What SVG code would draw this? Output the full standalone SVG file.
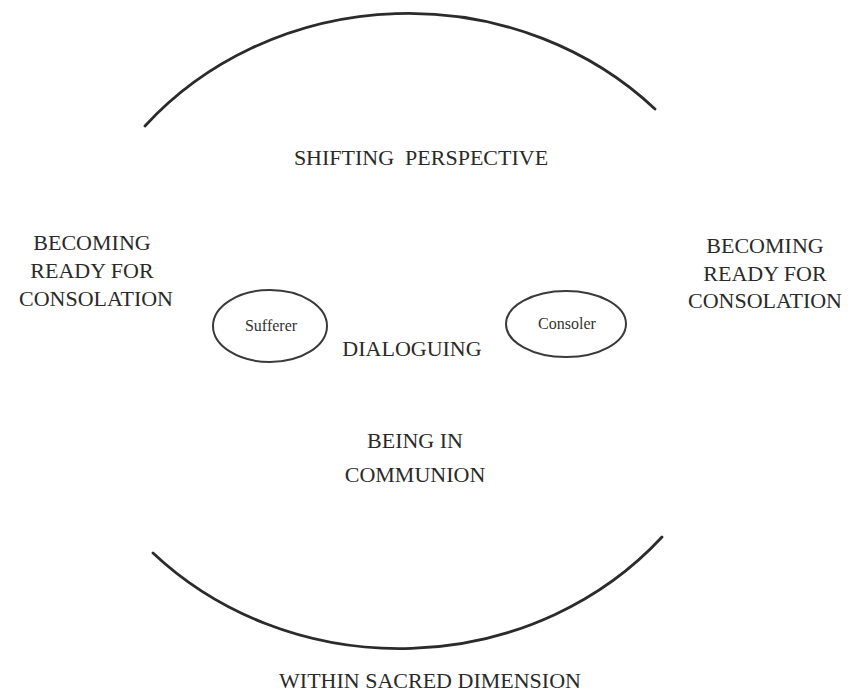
<svg xmlns="http://www.w3.org/2000/svg" width="849" height="692" viewBox="0 0 849 692">
<style>
.t{font-family:"Liberation Serif","Times New Roman",serif;font-size:22px;fill:#2a2a2a;text-anchor:middle}
.s{font-family:"Liberation Serif","Times New Roman",serif;font-size:16px;fill:#333;text-anchor:middle}
.arc{fill:none;stroke:#2b2b2b;stroke-linecap:round;stroke-width:2.8}
.node{fill:#fff;stroke:#3a3a3a;stroke-width:2}
</style>
<rect width="849" height="692" fill="#fff"/>
<g id="connectors">
<path class="arc" d="M145,126 A345,318 0 0 1 655,109"/>
<path class="arc" d="M153,553 A345,318 0 0 0 662,537"/>
</g>
<g id="shifting"><text class="t" x="421" y="165" xml:space="preserve">SHIFTING  PERSPECTIVE</text></g>
<g id="becoming-left"><text class="t" x="92" y="250">BECOMING</text><text class="t" x="92" y="278">READY FOR</text><text class="t" x="96" y="306">CONSOLATION</text></g>
<g id="becoming-right"><text class="t" x="765" y="253">BECOMING</text><text class="t" x="765" y="281">READY FOR</text><text class="t" x="765" y="308">CONSOLATION</text></g>
<g id="sufferer"><ellipse class="node" cx="270" cy="326" rx="57" ry="36"/><text class="s" x="271" y="331">Sufferer</text></g>
<g id="consoler"><ellipse class="node" cx="566" cy="324" rx="60" ry="33"/><text class="s" x="567" y="329">Consoler</text></g>
<g id="dialoguing"><text class="t" x="412" y="356">DIALOGUING</text></g>
<g id="communion"><text class="t" x="415" y="448">BEING IN</text><text class="t" x="415" y="482">COMMUNION</text></g>
<g id="sacred"><text class="t" x="430" y="688">WITHIN SACRED DIMENSION</text></g>
</svg>
